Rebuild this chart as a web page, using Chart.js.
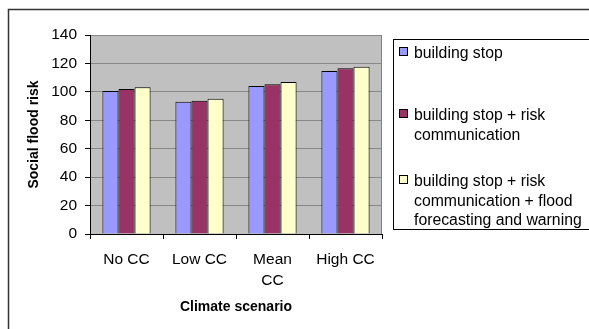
<!DOCTYPE html>
<html>
<head>
<meta charset="utf-8">
<script src="https://cdn.jsdelivr.net/npm/chart.js@4"></script>
<style>
  html, body { margin: 0; padding: 0; background: #fff; }
  #wrap { width: 589px; height: 329px; position: relative; }
</style>
</head>
<body>
<div id="wrap"><canvas id="chart" width="589" height="329"></canvas></div>
<script>
const scenarios = ["No CC", "Low CC", ["Mean", "CC"], "High CC"];
const buildingStop = [100.6, 93.1, 104.2, 114.7];
const riskComm = [102, 93.8, 105.3, 116.6];
const forecastWarning = [103.2, 95.2, 107, 117.7];
const legendLines = [
  ["building stop"],
  ["building stop + risk", "communication"],
  ["building stop + risk", "communication + flood", "forecasting and warning"],
];
const yTicks = [0, 20, 40, 60, 80, 100, 120, 140];

const fontFamily = "'Liberation Sans', Arial, sans-serif";

// grey plot background + outer frame + legend box
const excelLook = {
  id: "excelLook",
  beforeDraw(chart) {
    const { ctx, chartArea: a } = chart;
    ctx.save();
    ctx.fillStyle = "#fff";
    ctx.fillRect(0, 0, chart.width, chart.height);
    ctx.fillStyle = "#c0c0c0";
    ctx.fillRect(a.left, a.top, a.right - a.left, a.bottom - a.top);
    ctx.strokeStyle = "#808080";
    ctx.lineWidth = 1;
    ctx.strokeRect(a.left + 0.5, a.top + 0.5, a.right - a.left - 1, a.bottom - a.top);
    ctx.restore();
  },
  afterDraw(chart) {
    const { ctx } = chart;
    ctx.save();
    // outer frame
    ctx.strokeStyle = "#333";
    ctx.lineWidth = 1.5;
    ctx.strokeRect(8.5, 9.5, chart.width + 20, chart.height + 20);
    // legend box
    ctx.strokeStyle = "#000";
    ctx.lineWidth = 1;
    ctx.fillStyle = "#fff";
    ctx.fillRect(393.5, 39.5, 220, 190);
    ctx.strokeRect(393.5, 39.5, 220, 190);
    const itemY = [54, 116, 182];
    ctx.font = "15.8px " + fontFamily;
    ctx.textBaseline = "middle";
    ctx.textAlign = "left";
    chart.data.datasets.forEach((ds, i) => {
      const y = itemY[i];
      ctx.fillStyle = ds.backgroundColor;
      ctx.fillRect(399.5, y - 6.5, 8, 8);
      ctx.strokeStyle = "#000";
      ctx.strokeRect(399.5, y - 6.5, 8, 8);
      ctx.fillStyle = "#000";
      legendLines[i].forEach((line, j) => {
        ctx.fillText(line, 414, y + j * 19.2);
      });
    });
    ctx.restore();
  },
};

new Chart(document.getElementById("chart"), {
  type: "bar",
  data: {
    labels: scenarios,
    datasets: [
      {
        label: legendLines[0].join(" "),
        data: buildingStop,
        backgroundColor: "#9999ff",
        borderColor: "#000",
        borderWidth: 1,
      },
      {
        label: legendLines[1].join(" "),
        data: riskComm,
        backgroundColor: "#993366",
        borderColor: "#000",
        borderWidth: 1,
      },
      {
        label: legendLines[2].join(" "),
        data: forecastWarning,
        backgroundColor: "#ffffcc",
        borderColor: "#000",
        borderWidth: 1,
      },
    ],
  },
  options: {
    responsive: false,
    animation: false,
    layout: {
      padding: { left: 0, top: 35, right: 207, bottom: 0 },
    },
    datasets: {
      bar: {
        categoryPercentage: 0.66,
        barPercentage: 1,
      },
    },
    plugins: {
      legend: { display: false },
      tooltip: { enabled: false },
    },
    scales: {
      x: {
        afterFit(axis) {
          axis.height = 95;
        },
        grid: {
          display: true,
          drawOnChartArea: false,
          tickLength: 5,
          tickColor: "#000",
          offset: true,
        },
        border: { color: "#000", width: 1 },
        ticks: {
          color: "#000",
          padding: 11,
          maxRotation: 0,
          autoSkip: false,
          font: { family: fontFamily, size: 15.5, lineHeight: 1.3 },
        },
        title: {
          display: true,
          text: "Climate scenario",
          color: "#000",
          padding: { top: 0, bottom: 13 },
          font: { family: fontFamily, size: 14, weight: "bold" },
        },
      },
      y: {
        min: 0,
        max: 140,
        afterFit(axis) {
          axis.width = 90;
        },
        afterBuildTicks(axis) {
          axis.ticks = yTicks.map((v) => ({ value: v }));
        },
        grid: {
          color: "#888",
          tickColor: "#000",
          tickLength: 5,
        },
        border: { color: "#000", width: 1 },
        ticks: {
          color: "#000",
          padding: 8,
          font: { family: fontFamily, size: 15.5 },
        },
        title: {
          display: true,
          text: "Social flood risk",
          color: "#000",
          padding: { top: 26, bottom: 0 },
          font: { family: fontFamily, size: 14, weight: "bold" },
        },
      },
    },
  },
  plugins: [excelLook],
});
</script>
</body>
</html>
